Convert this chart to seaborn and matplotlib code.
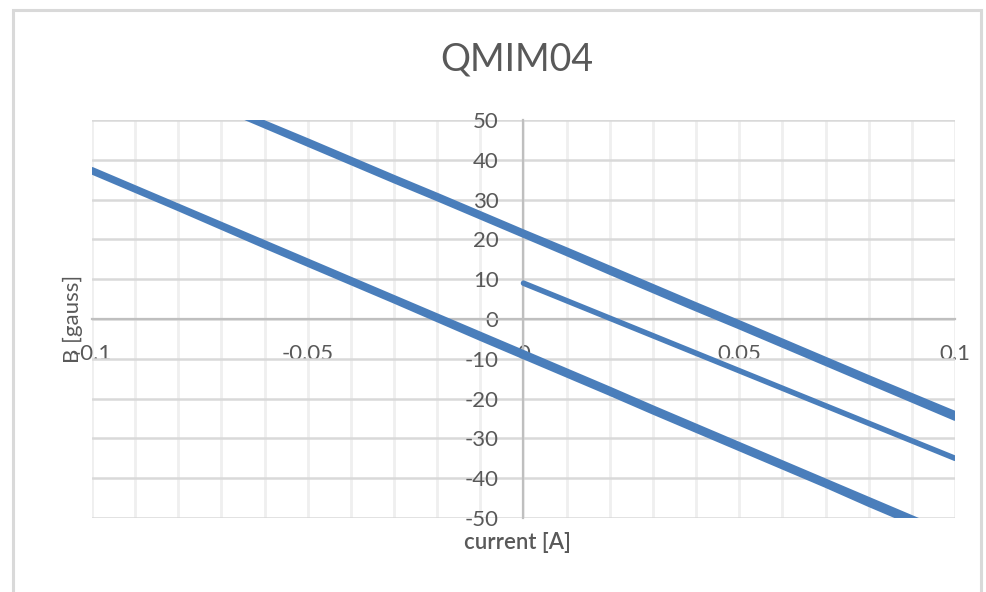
import numpy as np
import pandas as pd
import matplotlib
matplotlib.use("Agg")
import matplotlib.pyplot as plt
import matplotlib.patches as mpatches
import seaborn as sns

# current [A] and field [gauss]
current_upper = [-0.07, -0.06, -0.05, -0.04, -0.03, -0.02, -0.01, 0.00, 0.01,
                 0.02, 0.03, 0.04, 0.05, 0.06, 0.07, 0.08, 0.09, 0.10]
b_upper_up = [53.8, 49.2, 44.7, 40.1, 35.5, 31.0, 26.4, 21.8, 17.3,
              12.7, 8.1, 3.5, -1.0, -5.6, -10.2, -14.8, -19.3, -23.8]
b_upper_down = [53.2, 48.6, 44.0, 39.4, 34.8, 30.3, 25.7, 21.1, 16.5,
                11.8, 7.2, 2.6, -1.9, -6.5, -11.1, -15.7, -20.3, -24.9]

current_lower = [-0.10, -0.09, -0.08, -0.07, -0.06, -0.05, -0.04, -0.03, -0.02, -0.01,
                 0.00, 0.01, 0.02, 0.03, 0.04, 0.05, 0.06, 0.07, 0.08, 0.09, 0.10]
b_lower_up = [37.5, 32.9, 28.3, 23.7, 19.1, 14.5, 9.9, 5.3, 0.7, -3.9,
              -8.5, -13.1, -17.7, -22.4, -27.0, -31.6, -36.2, -40.8, -45.4, -50.0, -54.6]
b_lower_down = [37.0, 32.4, 27.8, 23.1, 18.4, 13.8, 9.2, 4.6, -0.1, -4.8,
                -9.4, -14.0, -18.6, -23.3, -27.9, -32.5, -37.1, -41.7, -46.5, -51.1, -55.7]

current_mid = [0.00, 0.01, 0.02, 0.03, 0.04, 0.05, 0.06, 0.07, 0.08, 0.09, 0.10]
b_mid = [9.0, 4.6, 0.2, -4.2, -8.6, -13.0, -17.4, -21.8, -26.2, -30.6, -35.0]

x_ticks = [-0.1, -0.05, 0, 0.05, 0.1]
x_tick_labels = ["-0.1", "-0.05", "0", "0.05", "0.1"]
y_ticks = [-50, -40, -30, -20, -10, 0, 10, 20, 30, 40, 50]
y_tick_labels = [str(v) for v in y_ticks]

series = [
    ("upper up", current_upper, b_upper_up),
    ("upper down", current_upper, b_upper_down),
    ("lower up", current_lower, b_lower_up),
    ("lower down", current_lower, b_lower_down),
    ("mid", current_mid, b_mid),
]
df = pd.concat(
    [pd.DataFrame({"current": x, "B": y, "sweep": name}) for name, x, y in series],
    ignore_index=True,
)

sns.set_theme(style="white")
plt.rcParams["font.family"] = ["Lato", "DejaVu Sans"]
plt.rcParams["axes.unicode_minus"] = False

W, H = 987, 592
fig = plt.figure(figsize=(W / 100, H / 100), dpi=100)
ax = fig.add_axes([92 / W, 1 - 518 / H, 863 / W, 398 / H])

line_color = "#4a7ebb"
for name, _, _ in series:
    sns.lineplot(data=df[df["sweep"] == name], x="current", y="B", ax=ax,
                 color=line_color, linewidth=4, sort=False,
                 solid_capstyle="round", zorder=3)

ax.set_xlim(-0.1, 0.1)
ax.set_ylim(-50, 50)
ax.set_xticks(x_ticks)
ax.set_xticklabels(x_tick_labels)
ax.set_xticks(np.round(np.arange(-0.1, 0.1001, 0.01), 3), minor=True)
ax.set_yticks(y_ticks)
ax.set_yticklabels(y_tick_labels)

ax.set_axisbelow(True)
ax.grid(axis="x", which="both", color="#efefef", linewidth=2)
ax.grid(axis="y", which="major", color="#d9d9d9", linewidth=1.8)

for side in ["top", "right"]:
    ax.spines[side].set_visible(False)
for side in ["left", "bottom"]:
    ax.spines[side].set_position(("data", 0))
    ax.spines[side].set_color("#bfbfbf")
    ax.spines[side].set_linewidth(1.6)

label_color = "#595959"
ax.tick_params(axis="x", which="both", length=0, pad=18, labelsize=16, labelcolor=label_color)
ax.tick_params(axis="y", which="both", length=0, pad=18, labelsize=16, labelcolor=label_color)

ax.set_xlabel("current [A]", fontsize=16, color=label_color, fontweight="semibold")
ax.xaxis.set_label_coords(0.4925, -0.035)
ax.set_ylabel("B [gauss]", fontsize=16, color=label_color)
ax.yaxis.set_label_coords(-0.011, 0.5)

fig.text(517 / W, 1 - 60 / H, "QMIM04", ha="center", va="center",
         fontsize=27, color=label_color)

# chart frame
fig.patches.append(mpatches.Rectangle((13 / W, -0.05), (981 - 13) / W, 1.05 - 10 / H,
                                      transform=fig.transFigure, fill=False,
                                      edgecolor="#d9d9d9", linewidth=2.2))

fig.savefig("out.png", dpi=100)
plt.close(fig)
